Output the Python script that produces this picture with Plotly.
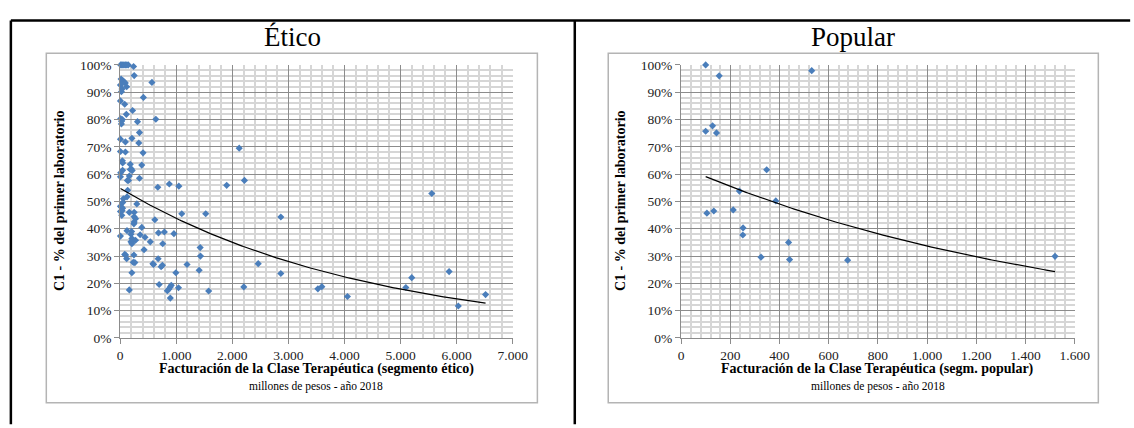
import numpy as np
import plotly.graph_objects as go

# ---------------- data ----------------
etico_x = [10, 30, 50, 70, 95, 120, 145, 240, 251,
           18, 45, 70, 92, 117, 6, 35, 23,
           567, 415, 6, 82, 222, 111,
           10, 40, 25, 23, 310, 637,
           345, 6, 210, 94, 333, 2123,
           6, 94, 409, 40, 45, 181, 386,
           180, 200, 215, 44, 10, 6, 164,
           130, 150, 345, 2216, 672, 877, 1047, 1900,
           135, 58, 123, 47, 298,
           6, 25, 45, 35, 6, 30,
           164, 251, 251, 275, 619, 251, 246,
           386, 123, 205, 684, 789, 959, 6, 193, 357, 444,
           210, 240, 275, 193, 210, 538, 760,
           427, 1427, 82, 99, 246, 117, 1433, 678,
           234, 263, 585, 596, 731, 754, 1193, 1409,
           994, 210, 696, 912, 895, 870, 842, 1041, 895, 164, 1579, 2205,
           2462, 1099, 1526, 5556, 2865, 2865, 3526, 3596, 4053, 5094, 5199, 5865, 6029, 6515]
etico_y = [1.0, 1.0, 1.0, 1.0, 1.0, 1.0, 1.0, 0.994, 0.961,
           0.948, 0.943, 0.937, 0.934, 0.920, 0.926, 0.912, 0.902,
           0.936, 0.881, 0.868, 0.856, 0.833, 0.819,
           0.803, 0.800, 0.794, 0.784, 0.792, 0.801,
           0.752, 0.728, 0.731, 0.718, 0.714, 0.695,
           0.683, 0.681, 0.678, 0.649, 0.641, 0.636, 0.633,
           0.617, 0.619, 0.613, 0.614, 0.605, 0.590, 0.593,
           0.577, 0.577, 0.585, 0.577, 0.552, 0.564, 0.556, 0.559,
           0.541, 0.510, 0.517, 0.496, 0.491,
           0.482, 0.479, 0.475, 0.466, 0.463, 0.449,
           0.460, 0.460, 0.444, 0.437, 0.433, 0.425, 0.418,
           0.405, 0.393, 0.390, 0.385, 0.388, 0.382, 0.373, 0.380, 0.378, 0.369,
           0.364, 0.358, 0.358, 0.352, 0.345, 0.352, 0.345,
           0.323, 0.331, 0.306, 0.304, 0.304, 0.290, 0.300, 0.290,
           0.277, 0.276, 0.272, 0.269, 0.261, 0.266, 0.269, 0.248,
           0.239, 0.239, 0.196, 0.193, 0.187, 0.179, 0.173, 0.184, 0.146, 0.176, 0.172, 0.187,
           0.272, 0.455, 0.455, 0.529, 0.443, 0.236, 0.180, 0.188, 0.152, 0.185, 0.221, 0.243, 0.117, 0.159]

popular_x = [100, 155, 531, 100, 128, 144, 348, 237, 385, 105, 133, 212,
             252, 251, 325, 437, 441, 677, 1520]
popular_y = [1.0, 0.960, 0.979, 0.757, 0.777, 0.751, 0.616, 0.538, 0.502, 0.457, 0.465, 0.469,
             0.403, 0.377, 0.296, 0.350, 0.287, 0.285, 0.299]

# exponential trendlines y = a * exp(b * x), coefficients
etico_trend_a, etico_trend_b = 0.548, -0.000224
popular_trend_a, popular_trend_b = 0.629, -0.000625

panel_titles = ["Ético", "Popular"]
x_titles = ["Facturación de la Clase Terapéutica (segmento ético)",
            "Facturación de la Clase Terapéutica (segm. popular)"]
x_subtitle = "millones de pesos - año 2018"
y_title = "C1 - % del primer laboratorio"

# ---------------- layout helpers ----------------
W, H = 1134, 428
def px(x):
    return x / W
def py(y):
    return 1 - y / H

SERIF = "Liberation Serif, Times New Roman, serif"
MARK = "#4a7ebb"
MAJOR = "#8c8c8c"
MINOR = "#d6d6d6"

fig = go.Figure()

def add_panel(xs, ys, a, b, xref, yref):
    fig.add_trace(go.Scatter(
        x=xs, y=ys, mode="markers", xaxis=xref, yaxis=yref,
        marker=dict(symbol="diamond", size=5.5, color=MARK, line=dict(width=0)),
        cliponaxis=False, showlegend=False, hoverinfo="x+y"))
    tx = np.linspace(min(xs), max(xs), 200)
    ty = a * np.exp(b * tx)
    fig.add_trace(go.Scatter(
        x=tx, y=ty, mode="lines", xaxis=xref, yaxis=yref,
        line=dict(color="black", width=1.2), showlegend=False, hoverinfo="skip"))

add_panel(etico_x, etico_y, etico_trend_a, etico_trend_b, "x", "y")
add_panel(popular_x, popular_y, popular_trend_a, popular_trend_b, "x2", "y2")

def xaxis(domain, rng, major, minor, anchor):
    return dict(domain=domain, range=rng, anchor=anchor,
                dtick=major, tick0=0, tickformat=",d",
                showgrid=True, gridcolor=MAJOR, gridwidth=1,
                minor=dict(dtick=minor, tick0=0, showgrid=True, gridcolor=MINOR, gridwidth=1.5),
                showline=True, linecolor=MAJOR, linewidth=1,
                ticks="outside", ticklen=5, tickcolor=MAJOR,
                zeroline=False,
                tickfont=dict(family=SERIF, size=13.5, color="#222"))

def yaxis(domain, anchor):
    return dict(domain=domain, range=[0, 1], anchor=anchor,
                dtick=0.1, tick0=0, tickformat=".0%",
                showgrid=True, gridcolor=MAJOR, gridwidth=1,
                minor=dict(dtick=0.02, tick0=0, showgrid=True, gridcolor=MINOR, gridwidth=1.5),
                showline=True, linecolor=MAJOR, linewidth=1,
                ticks="outside", ticklen=5, tickcolor=MAJOR,
                zeroline=False,
                tickfont=dict(family=SERIF, size=13.5, color="#222"))

ydom = [py(343), py(60)]
fig.update_layout(
    width=W, height=H, margin=dict(l=0, r=0, t=0, b=0),
    paper_bgcolor="white", plot_bgcolor="white",
    separators=",.",
    xaxis=xaxis([px(119), px(518)], [0, 7000], 1000, 200, "y"),
    yaxis=yaxis(ydom, "x"),
    xaxis2=xaxis([px(689), px(1089)], [0, 1600], 200, 40, "y2"),
    yaxis2=yaxis(ydom, "x2"),
)

shapes = []
# table lines (black)
shapes.append(dict(type="line", xref="paper", yref="paper", x0=px(8), x1=1.01, y0=py(14), y1=py(14),
                   line=dict(color="black", width=2.5)))
shapes.append(dict(type="line", xref="paper", yref="paper", x0=px(8), x1=px(8), y0=py(14), y1=-0.01,
                   line=dict(color="black", width=2.5)))
shapes.append(dict(type="line", xref="paper", yref="paper", x0=px(581), x1=px(581), y0=py(14), y1=-0.01,
                   line=dict(color="black", width=2.5)))
# chart frames (gray)
for (l, r) in [(44, 543), (615, 1113)]:
    shapes.append(dict(type="rect", xref="paper", yref="paper", x0=px(l), x1=px(r), y0=py(410), y1=py(48),
                       line=dict(color="#b4b4b4", width=1.5), fillcolor="rgba(0,0,0,0)", layer="below"))
fig.update_layout(shapes=shapes)

ann = []
for i, (cx, title, xt) in enumerate([(294, panel_titles[0], x_titles[0]), (864, panel_titles[1], x_titles[1])]):
    ann.append(dict(x=px(cx), y=py(31), xref="paper", yref="paper", text=title, showarrow=False,
                    font=dict(family=SERIF, size=27, color="black"), xanchor="center", yanchor="middle"))
    pcx = (119 + 518) / 2 if i == 0 else (689 + 1089) / 2
    ann.append(dict(x=px(pcx), y=py(375), xref="paper", yref="paper", text="<b>" + xt + "</b>", showarrow=False,
                    font=dict(family=SERIF, size=14, color="black"), xanchor="center", yanchor="middle"))
    ann.append(dict(x=px(pcx), y=py(393), xref="paper", yref="paper", text=x_subtitle, showarrow=False,
                    font=dict(family=SERIF, size=11.5, color="black"), xanchor="center", yanchor="middle"))
    ycx = 58 if i == 0 else 628
    ann.append(dict(x=px(ycx), y=py(201), xref="paper", yref="paper", text="<b>" + y_title + "</b>",
                    showarrow=False, textangle=-90,
                    font=dict(family=SERIF, size=14, color="black"), xanchor="center", yanchor="middle"))
fig.update_layout(annotations=ann)

fig.write_html("out.html",
               config={"displayModeBar": False},
               post_script="document.body.style.margin='0';document.body.style.overflow='hidden';")
